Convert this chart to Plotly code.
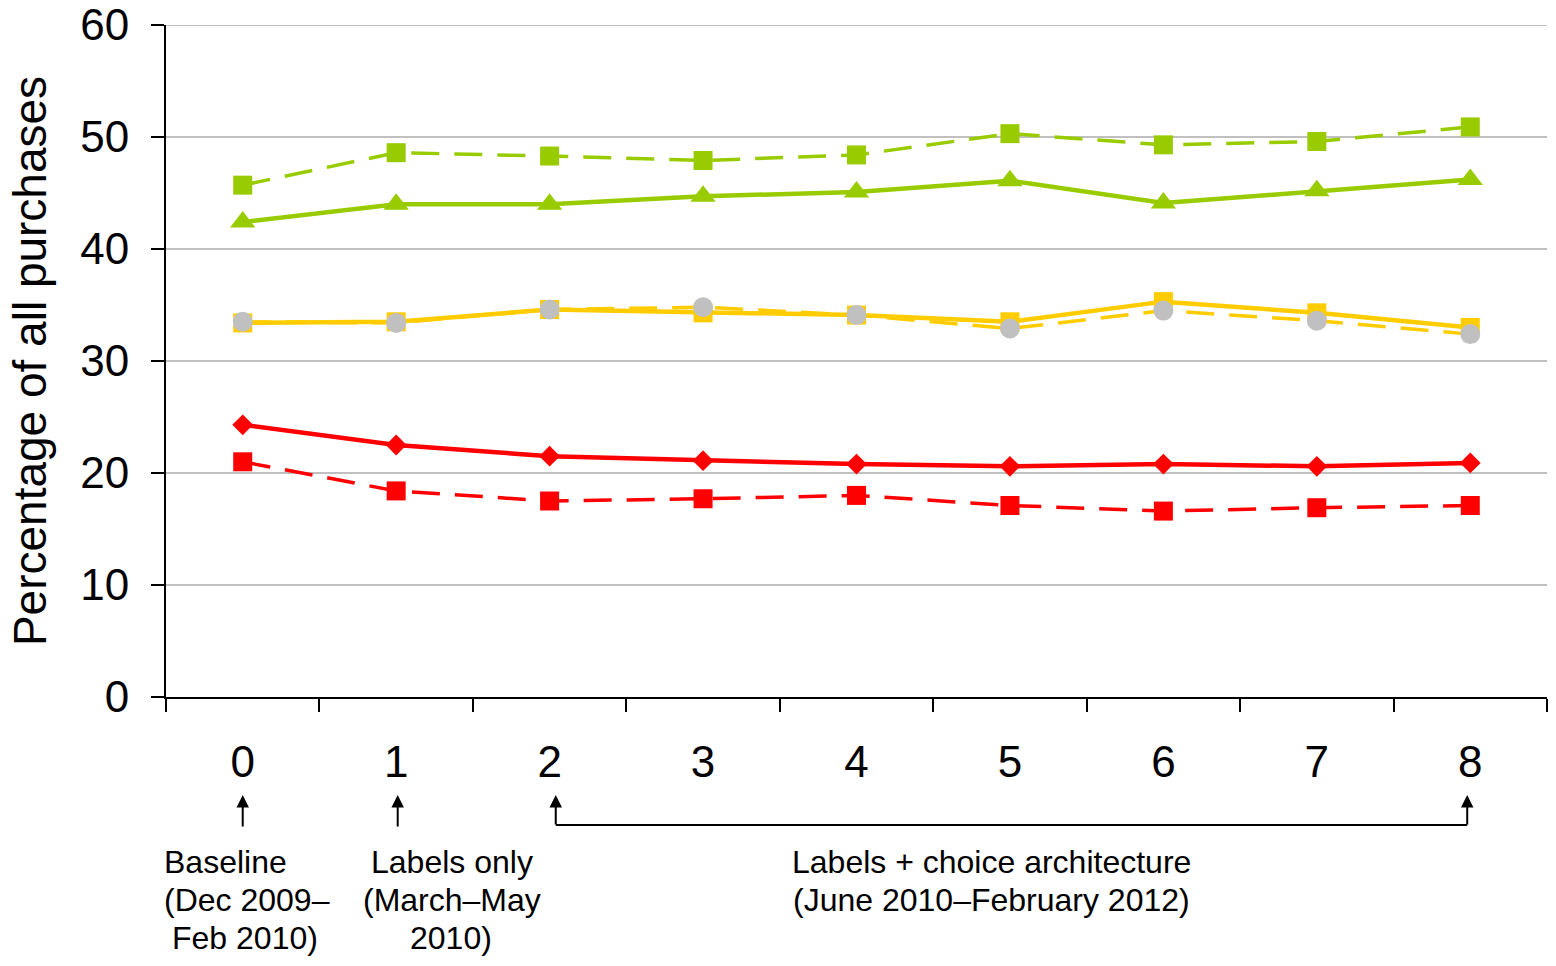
import plotly.graph_objects as go

# ---- data ----
periods = ["0", "1", "2", "3", "4", "5", "6", "7", "8"]

green_dashed = [45.7, 48.6, 48.3, 47.9, 48.4, 50.3, 49.3, 49.6, 50.9]
green_solid = [42.4, 44.0, 44.0, 44.7, 45.1, 46.1, 44.1, 45.2, 46.2]
amber_solid = [33.4, 33.5, 34.6, 34.3, 34.1, 33.5, 35.3, 34.3, 33.0]
amber_dashed = [33.5, 33.4, 34.6, 34.8, 34.1, 32.9, 34.5, 33.6, 32.4]
red_solid = [24.3, 22.5, 21.5, 21.1, 20.8, 20.6, 20.8, 20.6, 20.9]
red_dashed = [21.0, 18.4, 17.5, 17.7, 18.0, 17.1, 16.6, 16.9, 17.1]

y_ticks = [0, 10, 20, 30, 40, 50, 60]

GREEN = "#99CC00"
AMBER = "#FFCC00"
RED = "#FF0000"
GREY = "#C0C0C0"
FONT = "Liberation Sans, Arial, sans-serif"
DASH = "28px,15px"

fig = go.Figure()

def add(name, y, color, dash, symbol, msize, mcolor=None, lw=4.5):
    fig.add_trace(go.Scatter(
        x=periods, y=y, name=name, mode="lines+markers",
        line=dict(color=color, width=lw, dash=dash),
        marker=dict(symbol=symbol, size=msize, color=mcolor or color,
                    line=dict(width=0)),
        showlegend=False,
    ))

add("Green (dashed)", green_dashed, GREEN, DASH, "square", 19, lw=3.5)
add("Green (solid)", green_solid, GREEN, "solid", "triangle-up", 22)
add("Amber (solid)", amber_solid, AMBER, "solid", "square", 19)
add("Amber (dashed)", amber_dashed, AMBER, DASH, "circle", 20, mcolor=GREY, lw=3.5)
add("Red (solid)", red_solid, RED, "solid", "diamond", 16)
add("Red (dashed)", red_dashed, RED, DASH, "square", 19, lw=3.5)

# ---- annotations below the axis ----
ann = []
arrow_common = dict(xref="x", yref="paper", text="", showarrow=True,
                    arrowhead=2, arrowsize=1.25, arrowwidth=2,
                    arrowcolor="black", ax=0, axref="pixel", ayref="pixel")
ann.append(dict(x=0, y=-0.1458, ay=33, **arrow_common))
ann.append(dict(x=1.01, y=-0.1458, ay=33, **arrow_common))
ann.append(dict(x=2.04, y=-0.1458, ay=31, **arrow_common))
ann.append(dict(x=7.98, y=-0.1458, ay=31, **arrow_common))

txt = dict(xref="x", yref="paper", showarrow=False,
           font=dict(family=FONT, size=32, color="black"),
           xanchor="center", yanchor="middle")
ann += [
    dict(x=-0.115, y=-0.2455, text="Baseline", **txt),
    dict(x=0.028, y=-0.3021, text="(Dec 2009–", **txt),
    dict(x=0.015, y=-0.3586, text="Feb 2010)", **txt),
    dict(x=1.364, y=-0.2455, text="Labels only", **txt),
    dict(x=1.364, y=-0.3021, text="(March–May", **txt),
    dict(x=1.357, y=-0.3586, text="2010)", **txt),
    dict(x=4.883, y=-0.2455, text="Labels + choice architecture", **txt),
    dict(x=4.883, y=-0.3021, text="(June 2010–February 2012)", **txt),
]

shapes = [
    dict(type="line", xref="x", yref="paper", x0=2.04, x1=7.98,
         y0=-0.1905, y1=-0.1905, line=dict(color="black", width=2)),
    # top gridline (plotly drops the gridline at the range end)
    dict(type="line", xref="paper", yref="y", x0=0, x1=1,
         y0=y_ticks[-1], y1=y_ticks[-1], line=dict(color=GREY, width=2),
         layer="below"),
]

fig.update_layout(
    width=1556, height=966,
    margin=dict(l=166, r=9, t=25, b=269),
    paper_bgcolor="white", plot_bgcolor="white",
    font=dict(family=FONT, color="black"),
    annotations=ann, shapes=shapes,
)

fig.update_xaxes(
    type="category", range=[-0.5, 8.5], automargin=False,
    showline=True, linecolor="black", linewidth=2,
    ticks="outside", tickson="boundaries", ticklen=13, tickwidth=1.5,
    tickcolor="black", showgrid=False,
    tickfont=dict(family=FONT, size=44), ticklabelstandoff=25,
)
fig.update_yaxes(
    range=[0, 60], tickvals=y_ticks, automargin=False,
    showline=True, linecolor="black", linewidth=2,
    ticks="outside", ticklen=13, tickwidth=1.5, tickcolor="black",
    showgrid=True, gridcolor=GREY, gridwidth=2, zeroline=False,
    tickfont=dict(family=FONT, size=44), ticklabelstandoff=13,
    ticklabeloverflow="allow",
    title=dict(text="Percentage of all purchases",
               font=dict(family=FONT, size=46), standoff=19),
)

fig.write_html(
    "out.html",
    config={"displayModeBar": False},
    post_script="document.body.style.margin='0';document.body.style.overflow='hidden';",
)
